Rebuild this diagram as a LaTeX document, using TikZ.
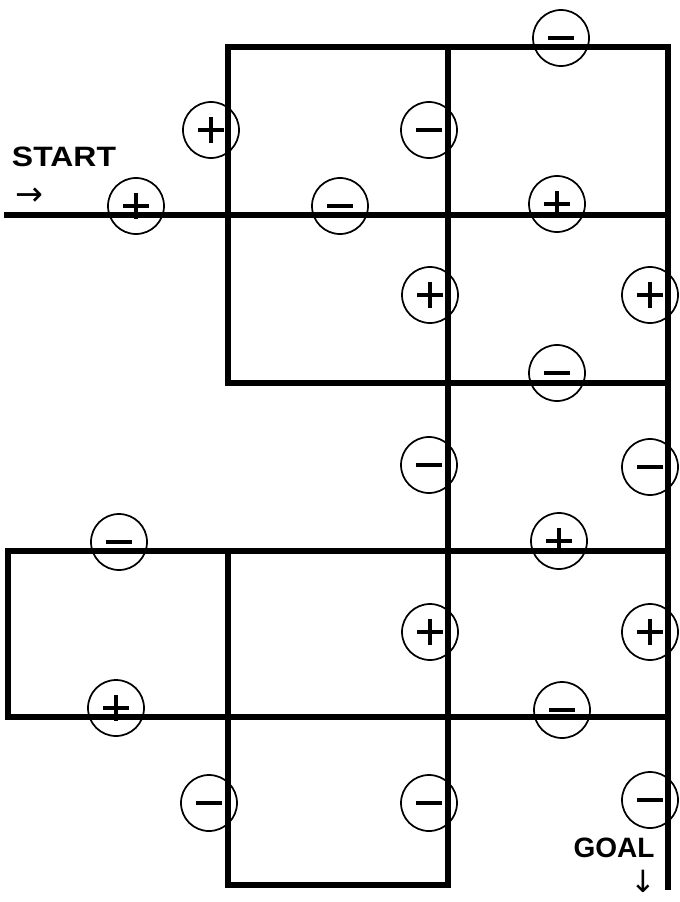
\documentclass[tikz,border=0pt]{standalone}
\usepackage{fontspec}
\setmainfont{Liberation Sans}
\newfontfamily\arrowfont{DejaVu Sans}
\usepackage{tikz}
\usetikzlibrary{positioning}

\newcommand{\mns}{\rule[-1.2pt]{19pt}{2.4pt}}
\newcommand{\pls}{\makebox[19pt][l]{\rlap{\rule[-1.2pt]{19pt}{2.4pt}}\hspace{8.3pt}\rule[-9.5pt]{2.4pt}{19pt}}}

\begin{document}
\begin{tikzpicture}[x=0.75pt,y=-0.75pt,
 wall/.style={line width=3.8pt,line join=miter,line cap=rect},
 charge/.style={circle,draw,line width=1.3pt,minimum size=42pt,inner sep=0pt},
 label/.style={font=\fontsize{21}{24}\selectfont\bfseries,inner sep=0pt},
 pointer/.style={font=\arrowfont\fontsize{25}{25}\selectfont,inner sep=0pt}
]
\useasboundingbox (0,0) rectangle (679,902);
% grid corners
\coordinate (s0) at (7,215);
\coordinate (a1) at (228,47);  \coordinate (b1) at (448,47);  \coordinate (c1) at (668,47);
\coordinate (a2) at (228,215); \coordinate (c2) at (668,215);
\coordinate (a3) at (228,383); \coordinate (b3) at (448,383); \coordinate (c3) at (668,383);
\coordinate (l4) at (8,551);   \coordinate (a4) at (228,551); \coordinate (c4) at (668,551);
\coordinate (l5) at (8,717);   \coordinate (c5) at (668,717);
\coordinate (a6) at (228,885); \coordinate (b6) at (448,885); \coordinate (c6) at (668,887);
% walls
\draw[wall] (s0) -- (c2);
\draw[wall] (a3) -- (a1) -- (c1) -- (c6);
\draw[wall] (b1) -- (b6);
\draw[wall] (a3) -- (c3);
\draw[wall] (c4) -- (l4) -- (l5) -- (c5);
\draw[wall] (a4) -- (a6) -- (b6);
% charges
\node[charge] (m1) at (561,38) {\mns};
\node[charge] (p1) at (211,130) {\pls};
\node[charge] (m2) at (429,130) {\mns};
\node[charge] (p2) at (136,206) {\pls};
\node[charge] (m3) at (340,206) {\mns};
\node[charge] (p3) at (557,204) {\pls};
\node[charge] (p4) at (430,295) {\pls};
\node[charge] (p5) at (650,295) {\pls};
\node[charge] (m4) at (557,373) {\mns};
\node[charge] (m5) at (429,465) {\mns};
\node[charge] (m6) at (650,467) {\mns};
\node[charge] (m7) at (119,542) {\mns};
\node[charge] (p6) at (559,541) {\pls};
\node[charge] (p7) at (430,632) {\pls};
\node[charge] (p8) at (650,632) {\pls};
\node[charge] (p9) at (116,708) {\pls};
\node[charge] (m8) at (562,710) {\mns};
\node[charge] (m9) at (209,803) {\mns};
\node[charge] (m10) at (429,803) {\mns};
\node[charge] (m11) at (650,800) {\mns};
% start and goal
\node[label] (start) at (64,157) {\scalebox{1.14}[1]{START}};
\node[pointer] (inarrow) at (29,197) {→};
\node[label] (goal) at (614,848) {GOAL};
\node[pointer,font=\arrowfont\fontsize{23}{23}\selectfont] (outarrow) at (643,881) {↓};
\end{tikzpicture}
\end{document}
